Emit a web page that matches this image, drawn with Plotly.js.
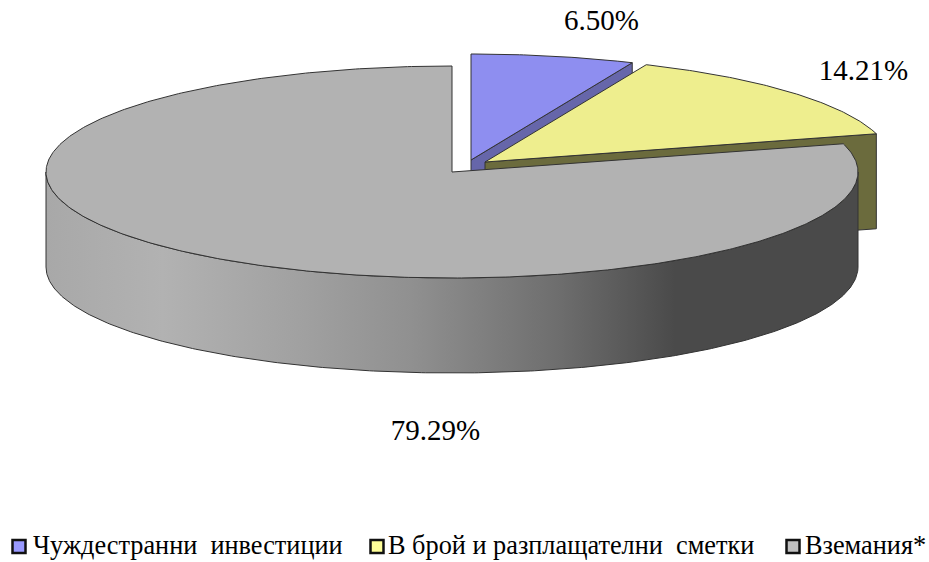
<!DOCTYPE html>
<html><head><meta charset="utf-8">
<script src="https://cdn.plot.ly/plotly-3.0.1.min.js"></script>
<style>html,body{margin:0;padding:0;background:#fff}</style></head>
<body><div id="chart" style="width:929px;height:562px"></div>
<script>
const categories = ['Чуждестранни  инвестиции', 'В брой и разплащателни  сметки', 'Вземания*'];
const shares = [6.50, 14.21, 79.29];
const topColors = ['#8e8ef0', '#eeee8e', '#b2b2b2'];
const sideColors = ['#6666aa', '#6b6b3d', '#4d4d4d'];
const legendColors = ['#9999ff', '#ffff99', '#c0c0c0'];
const wallStops = [[0,'#a8a8a8'],[0.144,'#b2b2b2'],[0.32,'#a0a0a0'],[0.45,'#909090'],[0.63,'#6e6e6e'],[0.775,'#4a4a4a'],[1,'#4a4a4a']];

// pseudo-3D pie geometry (projection constants)
const RX = 406, RY = 106, DEPTH = 95;
const apexes = [[471,160],[485,162],[452,172]];
const labelPos = [[601.5,23],[863.5,73],[435.5,433]];
const legendMarkerPos = [[19,546.5],[377,546.5],[793,546.5]];
const legendTextPos = [[33,547.5],[388,547.5],[805,547.5]];
const outline = '#333333';
const serif = '"Liberation Serif", "Times New Roman", serif';

const deg = p => p * 3.6 * Math.PI / 180;
const rim = (c, a) => [c[0] + RX * Math.sin(a), c[1] - RY * Math.cos(a)];
function arc(c, a0, a1, dy) {
  const n = Math.max(2, Math.ceil(Math.abs(a1 - a0) / 0.01)), pts = [];
  for (let i = 0; i <= n; i++) {
    const p = rim(c, a0 + (a1 - a0) * i / n);
    pts.push([p[0], p[1] + (dy || 0)]);
  }
  return pts;
}
function poly(pts, fill, extra) {
  return Object.assign({
    type: 'scatter', mode: 'lines', x: pts.map(p => p[0]), y: pts.map(p => p[1]),
    fill: 'toself', fillcolor: fill, line: {color: outline, width: 1},
    hoverinfo: 'skip', showlegend: false
  }, extra || {});
}
function cutFace(c, a, fill) {
  const r = rim(c, a);
  return poly([c, r, [r[0], r[1] + DEPTH], [c[0], c[1] + DEPTH], c], fill);
}

let acc = 0;
const bounds = shares.map(s => { const b = [deg(acc), deg(acc + s)]; acc += s; return b; });
const traces = [];

// back to front
traces.push(cutFace(apexes[0], bounds[0][1], sideColors[0]));
traces.push(poly([apexes[0], ...arc(apexes[0], bounds[0][0], bounds[0][1]), apexes[0]], topColors[0]));
traces.push(cutFace(apexes[1], bounds[1][1], sideColors[1]));
traces.push(poly([apexes[1], ...arc(apexes[1], bounds[1][0], bounds[1][1]), apexes[1]], topColors[1]));
// grey outer wall (front half)
const wallTop = arc(apexes[2], Math.PI / 2, 1.5 * Math.PI);
const wallBottom = arc(apexes[2], 1.5 * Math.PI, Math.PI / 2, DEPTH);
traces.push(poly([...wallTop, ...wallBottom, wallTop[0]], '#888888',
  {fillgradient: {type: 'horizontal', colorscale: wallStops}}));
// grey top
traces.push(poly([apexes[2], ...arc(apexes[2], bounds[2][0], bounds[2][1]), apexes[2]], topColors[2]));

// value labels
traces.push({
  type: 'scatter', mode: 'text', x: labelPos.map(p => p[0]), y: labelPos.map(p => p[1]),
  text: shares.map(s => s.toFixed(2) + '%'), textposition: 'middle center',
  textfont: {family: serif, size: 29, color: '#000'},
  hoverinfo: 'skip', showlegend: false
});
// legend row: swatches, then names
traces.push({
  type: 'scatter', mode: 'markers', x: legendMarkerPos.map(p => p[0]), y: legendMarkerPos.map(p => p[1]),
  marker: {symbol: 'square', size: 13, color: legendColors, line: {color: '#111', width: 2.5}},
  hoverinfo: 'skip', showlegend: false
});
traces.push({
  type: 'scatter', mode: 'text', x: legendTextPos.map(p => p[0]), y: legendTextPos.map(p => p[1]),
  text: categories, textposition: 'middle right',
  textfont: {family: serif, size: 26.3, color: '#000'},
  hoverinfo: 'skip', showlegend: false, cliponaxis: false
});

const layout = {
  width: 929, height: 562,
  margin: {l: 0, r: 0, t: 0, b: 0},
  paper_bgcolor: '#fff', plot_bgcolor: '#fff',
  xaxis: {range: [0, 929], visible: false, fixedrange: true},
  yaxis: {range: [562, 0], visible: false, fixedrange: true},
  showlegend: false
};
Plotly.newPlot('chart', traces, layout, {displayModeBar: false, staticPlot: true});
</script></body></html>
